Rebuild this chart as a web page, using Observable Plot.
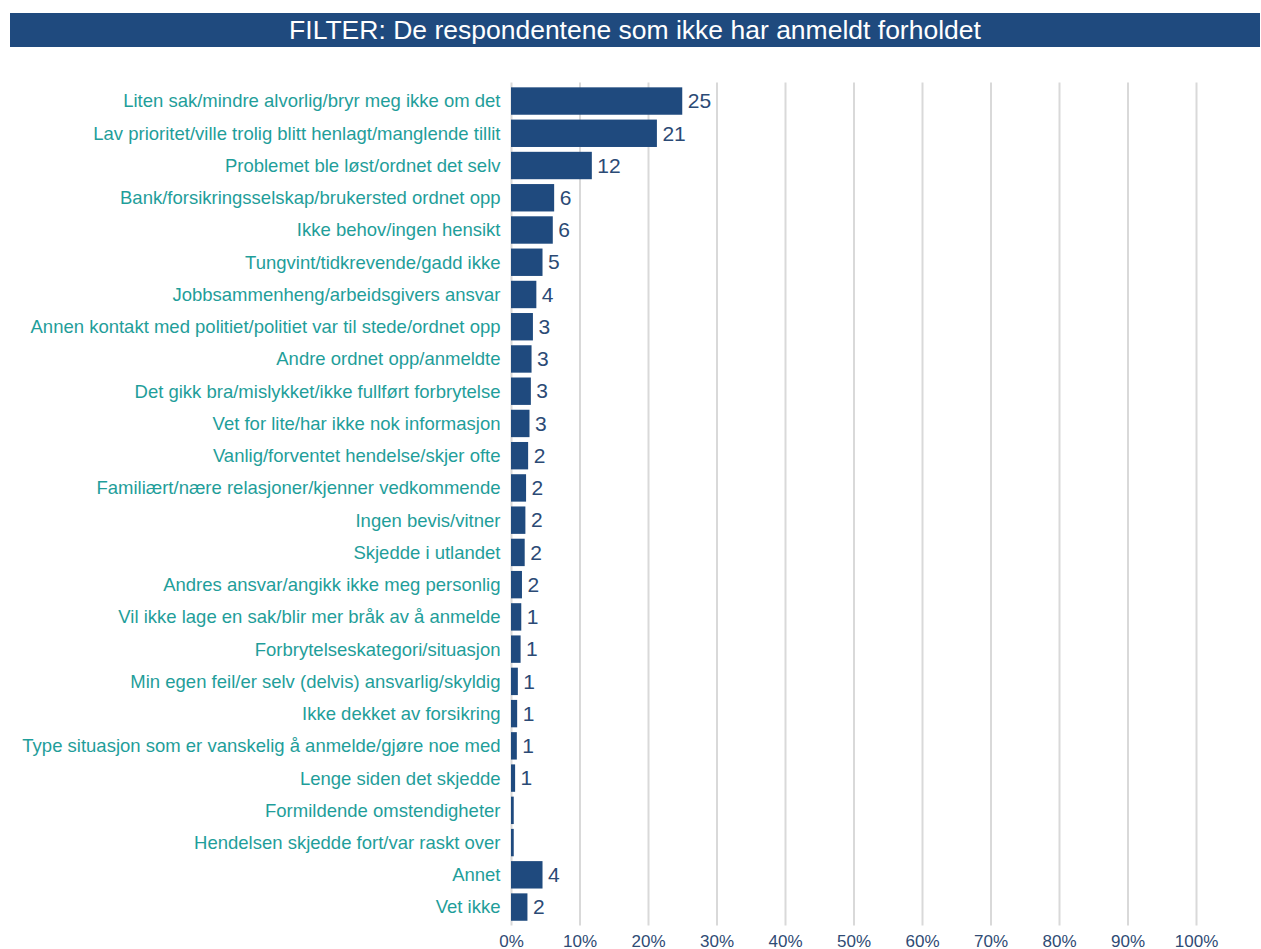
<!DOCTYPE html>
<html>
<head>
<meta charset="utf-8">
<script src="https://cdn.jsdelivr.net/npm/d3@7"></script>
<script src="https://cdn.jsdelivr.net/npm/@observablehq/plot@0.6"></script>
<style>
  html, body { margin: 0; padding: 0; background: #ffffff; }
  #title {
    position: absolute; left: 10px; top: 13px; width: 1250px; height: 34px;
    background: #1f4a7e; color: #ffffff; text-align: center;
    font-family: "Liberation Sans", Arial, sans-serif; font-size: 26.5px; line-height: 34px;
  }
  #chart { position: absolute; left: 0; top: 50px; }
  #chart svg { overflow: visible; }
</style>
</head>
<body>
<div id="title">FILTER: De respondentene som ikke har anmeldt forholdet</div>
<div id="chart"></div>
<script>
const categories = [
  "Liten sak/mindre alvorlig/bryr meg ikke om det",
  "Lav prioritet/ville trolig blitt henlagt/manglende tillit",
  "Problemet ble løst/ordnet det selv",
  "Bank/forsikringsselskap/brukersted ordnet opp",
  "Ikke behov/ingen hensikt",
  "Tungvint/tidkrevende/gadd ikke",
  "Jobbsammenheng/arbeidsgivers ansvar",
  "Annen kontakt med politiet/politiet var til stede/ordnet opp",
  "Andre ordnet opp/anmeldte",
  "Det gikk bra/mislykket/ikke fullført forbrytelse",
  "Vet for lite/har ikke nok informasjon",
  "Vanlig/forventet hendelse/skjer ofte",
  "Familiært/nære relasjoner/kjenner vedkommende",
  "Ingen bevis/vitner",
  "Skjedde i utlandet",
  "Andres ansvar/angikk ikke meg personlig",
  "Vil ikke lage en sak/blir mer bråk av å anmelde",
  "Forbrytelseskategori/situasjon",
  "Min egen feil/er selv (delvis) ansvarlig/skyldig",
  "Ikke dekket av forsikring",
  "Type situasjon som er vanskelig å anmelde/gjøre noe med",
  "Lenge siden det skjedde",
  "Formildende omstendigheter",
  "Hendelsen skjedde fort/var raskt over",
  "Annet",
  "Vet ikke"
];
// bar lengths (percent)
const values = [25.0, 21.3, 11.8, 6.3, 6.1, 4.6, 3.7, 3.2, 3.0, 2.9, 2.7, 2.5, 2.2, 2.1, 2.0, 1.6, 1.5, 1.4, 1.0, 0.9, 0.85, 0.6, 0.4, 0.4, 4.6, 2.4];
// printed value labels
const valueLabels = ["25", "21", "12", "6", "6", "5", "4", "3", "3", "3", "3", "2", "2", "2", "2", "2", "1", "1", "1", "1", "1", "1", "", "", "4", "2"];
const xTicks = [0, 10, 20, 30, 40, 50, 60, 70, 80, 90, 100];

const data = categories.map((c, i) => ({category: c, value: values[i], label: valueLabels[i]}));

const barColor = "#1f4a7e";
const chart = Plot.plot({
  width: 1261,
  height: 899,
  marginLeft: 511,
  marginRight: 65,
  marginTop: 32.5,
  marginBottom: 23.4,
  style: {fontFamily: "'Liberation Sans', Arial, sans-serif", background: "transparent"},
  x: {domain: [0, 100], ticks: xTicks, tickFormat: d => d + "%"},
  y: {domain: categories, padding: 0.15, round: false, label: null},
  marks: [
    Plot.gridX(xTicks, {stroke: "#d9d9d9", strokeOpacity: 1, strokeWidth: 2}),
    Plot.barX(data, {x: "value", y: "category", fill: barColor}),
    Plot.text(data.filter(d => d.label !== ""), {
      x: "value", y: "category", text: "label",
      textAnchor: "start", dx: 5, fontSize: 21, fill: "#2b4a75"
    }),
    Plot.axisY({tickSize: 0, tickPadding: 11, fontSize: 18.5, color: "#1f9e9a", label: null}),
    Plot.axisX({ticks: xTicks, tickFormat: d => d + "%", tickSize: 0, tickPadding: 9, fontSize: 17, color: "#2f4b74", label: null})
  ]
});
document.getElementById("chart").appendChild(chart);
</script>
</body>
</html>
